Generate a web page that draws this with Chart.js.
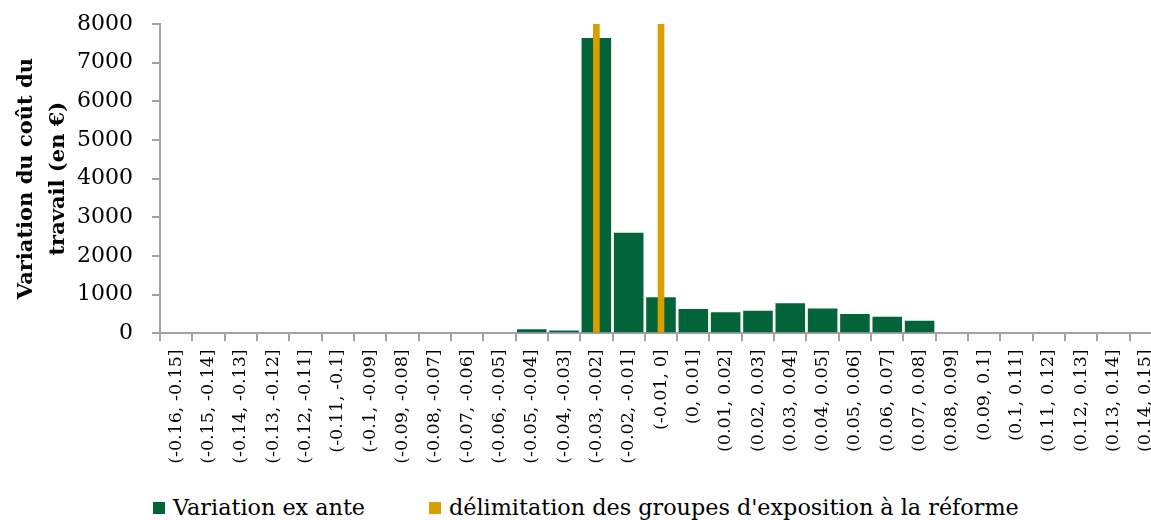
<!DOCTYPE html>
<html lang="fr">
<head>
<meta charset="utf-8">
<title>Variation du coût du travail</title>
<script src="https://cdn.jsdelivr.net/npm/chart.js@4/dist/chart.umd.min.js"></script>
<style>
  html, body { margin: 0; padding: 0; background: #fff; overflow: hidden; }
  #wrap { position: absolute; left: 0; top: 0; width: 1151px; height: 520px; overflow: hidden; }
  #c { position: absolute; left: 0; top: 0; }
  .leg-box { position: absolute; width: 12px; height: 12px; }
  .leg-text { position: absolute; font-family: "DejaVu Serif", serif; font-size: 22.3px; line-height: 26px; color: #000; white-space: nowrap; }
</style>
</head>
<body>
<div id="wrap">
  <canvas id="c" width="1170" height="480"></canvas>
  <div id="legend"></div>
</div>
<script>
// Tranches de variation (catégories de l'axe horizontal)
const categories = [
  "(-0.16, -0.15]", "(-0.15, -0.14]", "(-0.14, -0.13]", "(-0.13, -0.12]",
  "(-0.12, -0.11]", "(-0.11, -0.1]", "(-0.1, -0.09]", "(-0.09, -0.08]",
  "(-0.08, -0.07]", "(-0.07, -0.06]", "(-0.06, -0.05]", "(-0.05, -0.04]",
  "(-0.04, -0.03]", "(-0.03, -0.02]", "(-0.02, -0.01]", "(-0.01, 0]",
  "(0, 0.01]", "(0.01, 0.02]", "(0.02, 0.03]", "(0.03, 0.04]",
  "(0.04, 0.05]", "(0.05, 0.06]", "(0.06, 0.07]", "(0.07, 0.08]",
  "(0.08, 0.09]", "(0.09, 0.1]", "(0.1, 0.11]", "(0.11, 0.12]",
  "(0.12, 0.13]", "(0.13, 0.14]", "(0.14, 0.15]"
];

// Variation ex ante du coût du travail (en €)
const variationExAnte = [
  0, 0, 0, 0, 0, 0, 0, 0, 0, 0,
  30, 105, 70, 7640, 2600, 930,
  630, 545, 585, 775, 640, 500, 430, 325,
  0, 0, 0, 0, 0, 0, 0
];

// Délimitation des groupes d'exposition à la réforme
const delimitation = [
  null, null, null, null, null, null, null, null, null, null,
  null, null, null, 8000, null, 8000,
  null, null, null, null, null, null, null, null,
  null, null, null, null, null, null, null
];

const yTicks = { min: 0, max: 8000, step: 1000 };

const seriesNames = ["Variation ex ante", "délimitation des groupes d'exposition à la réforme"];
const GREEN = "#03643a";
const ORANGE = "#d99e00";
const AXIS = "#a3a3a3";
const FONT = "'DejaVu Serif', serif";

new Chart(document.getElementById("c"), {
  type: "bar",
  data: {
    labels: categories,
    datasets: [
      {
        label: seriesNames[0],
        data: variationExAnte,
        backgroundColor: GREEN,
        borderWidth: 0,
        barPercentage: 0.915,
        categoryPercentage: 1,
        grouped: false,
        order: 1
      },
      {
        label: seriesNames[1],
        data: delimitation,
        backgroundColor: ORANGE,
        borderWidth: 0,
        barThickness: 6,
        grouped: false,
        order: 0
      }
    ]
  },
  options: {
    responsive: false,
    devicePixelRatio: 1,
    animation: false,
    events: [],
    layout: { padding: { top: 24, right: 8, bottom: 0, left: 0 } },
    plugins: {
      legend: { display: false },
      tooltip: { enabled: false }
    },
    scales: {
      x: {
        grid: {
          offset: true,
          drawOnChartArea: false,
          drawTicks: true,
          tickLength: 8,
          color: AXIS,
          lineWidth: 2
        },
        border: { display: true, color: AXIS, width: 2 },
        ticks: {
          autoSkip: false,
          maxRotation: 90,
          minRotation: 90,
          padding: 8,
          color: "#000",
          font: { family: FONT, size: 17.5 }
        },
        afterFit: (s) => {
          s.height = 146.7;
          s.paddingLeft = 0;
          s.paddingRight = 0;
        }
      },
      y: {
        min: yTicks.min,
        max: yTicks.max,
        grid: {
          drawOnChartArea: false,
          drawTicks: true,
          tickLength: 8,
          color: AXIS,
          lineWidth: 2
        },
        border: { display: true, color: AXIS, width: 2 },
        ticks: {
          stepSize: yTicks.step,
          padding: 19,
          color: "#000",
          font: { family: FONT, size: 22 },
          callback: (v) => String(v)
        },
        title: {
          display: true,
          text: ["Variation du coût du", "travail (en €)"],
          color: "#000",
          font: { family: FONT, size: 21, weight: "bold", lineHeight: 1.5 },
          padding: { top: 11, bottom: 0 }
        },
        afterFit: (s) => {
          s.width = 160;
          s.paddingTop = 0;
          s.paddingBottom = 0;
        }
      }
    }
  }
});

// Légende
const legendItems = [
  { text: seriesNames[0], color: GREEN, box: 153, label: 173 },
  { text: seriesNames[1], color: ORANGE, box: 429, label: 449 }
];
const legend = document.getElementById("legend");
legendItems.forEach((it) => {
  const b = document.createElement("div");
  b.className = "leg-box";
  b.style.left = it.box + "px";
  b.style.top = "502px";
  b.style.background = it.color;
  legend.appendChild(b);
  const t = document.createElement("div");
  t.className = "leg-text";
  t.style.left = it.label + "px";
  t.style.top = "494px";
  t.textContent = it.text;
  legend.appendChild(t);
});
</script>
</body>
</html>
